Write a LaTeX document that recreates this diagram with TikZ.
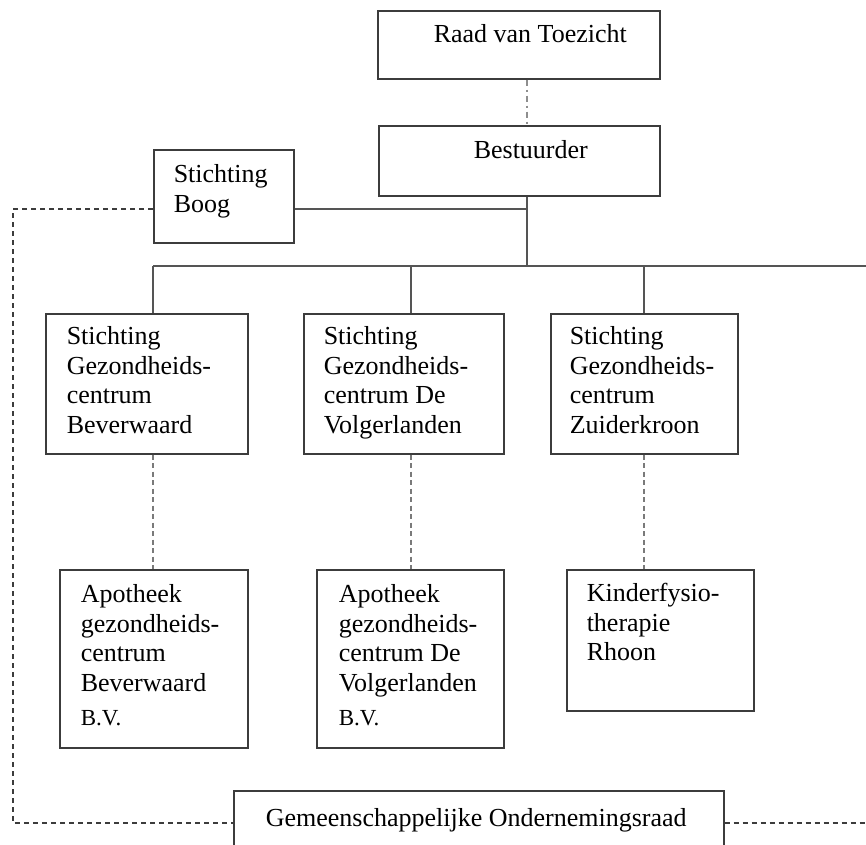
\documentclass[tikz,border=0pt]{standalone}
\usepackage{fontspec}
\setmainfont{Liberation Serif}
\definecolor{boxcol}{HTML}{3C3C3C}
\definecolor{linecol}{HTML}{555555}
\definecolor{dashcol}{HTML}{7A7A7A}
\definecolor{dotcol}{HTML}{8E8E8E}
% #1 width, #2 height, #3 left pad, #4 first baseline, #5 text
\newcommand\orgtxt[5]{\parbox[b][#2][t]{#1}{\fontsize{26}{29.5}\selectfont
  \leftskip=#3\relax\rightskip=0pt plus 1fil\relax\parindent=0pt
  \leavevmode\rule{0pt}{#4}#5}}
\tikzset{
  orgbox/.style={draw=boxcol, line width=1.5pt, inner sep=0pt, anchor=north west, fill=white},
  solidcon/.style={draw=linecol, line width=1.5pt},
  graydash/.style={draw=dashcol, line width=1.6pt, dash pattern=on 5pt off 3.5pt},
  dashdotcon/.style={draw=dotcol, line width=1.8pt, dash pattern=on 6pt off 4pt on 2pt off 4pt},
  darkdash/.style={draw=boxcol, line width=1.2pt, dash pattern=on 5pt off 4pt}
}
\begin{document}
\begin{tikzpicture}[x=1pt,y=-1pt]
\path[use as bounding box, clip] (0,0) rectangle (866,844);
% named coordinates
\coordinate (trunk) at (527,266);
\coordinate (boogj) at (527,209);
\coordinate (d1) at (153,266);
\coordinate (d2) at (411,266);
\coordinate (d3) at (644,266);
\coordinate (busR) at (866,266);
\coordinate (cl1) at (13,209);
\coordinate (cl2) at (13,823);
\coordinate (cr) at (866,823);
% boxes
\node[orgbox] (raad) at (377,10) {\orgtxt{282pt}{68pt}{56pt}{32pt}{Raad van Toezicht}};
\node[orgbox] (best) at (378,125) {\orgtxt{281pt}{70pt}{95pt}{33pt}{Bestuurder}};
\node[orgbox] (boog) at (153,149) {\orgtxt{140pt}{93pt}{20pt}{33pt}{Stichting\\Boog}};
\node[orgbox] (bev) at (45,313) {\orgtxt{202pt}{140pt}{21pt}{31pt}{Stichting\\Gezondheids-\\centrum\\Beverwaard}};
\node[orgbox] (vol) at (303,313) {\orgtxt{200pt}{140pt}{20pt}{31pt}{Stichting\\Gezondheids-\\centrum De\\Volgerlanden}};
\node[orgbox] (zui) at (550,313) {\orgtxt{187pt}{140pt}{19pt}{31pt}{Stichting\\Gezondheids-\\centrum\\Zuiderkroon}};
\node[orgbox] (apb) at (59,569) {\orgtxt{188pt}{178pt}{21pt}{33pt}{Apotheek\\gezondheids-\\centrum\\Beverwaard\\[4.5pt]{\fontsize{23}{29.5}\selectfont B.V.}}};
\node[orgbox] (apv) at (316,569) {\orgtxt{187pt}{178pt}{22pt}{33pt}{Apotheek\\gezondheids-\\centrum De\\Volgerlanden\\[4.5pt]{\fontsize{23}{29.5}\selectfont B.V.}}};
\node[orgbox] (kin) at (566,569) {\orgtxt{187pt}{141pt}{20pt}{32pt}{Kinderfysio-\\therapie\\Rhoon}};
\node[orgbox] (gor) at (233,790) {\orgtxt{490pt}{75pt}{32pt}{36pt}{Gemeenschappelijke Ondernemingsraad}};
% connectors
\draw[dashdotcon] (raad.south -| trunk) -- (best.north -| trunk);
\draw[solidcon] (best.south -| trunk) -- (trunk);
\draw[solidcon] (boog.east |- boogj) -- (boogj);
\draw[solidcon] (d1) -- (busR);
\draw[solidcon] (d1) -- (bev.north -| d1);
\draw[solidcon] (d2) -- (vol.north -| d2);
\draw[solidcon] (d3) -- (zui.north -| d3);
\draw[graydash] (bev.south -| d1) -- (apb.north -| d1);
\draw[graydash] (vol.south -| d2) -- (apv.north -| d2);
\draw[graydash] (zui.south -| d3) -- (kin.north -| d3);
\draw[darkdash] (boog.west |- cl1) -- (cl1) -- (cl2) -- (gor.west |- cl2);
\draw[darkdash] (gor.east |- cr) -- (cr);
\end{tikzpicture}
\end{document}
